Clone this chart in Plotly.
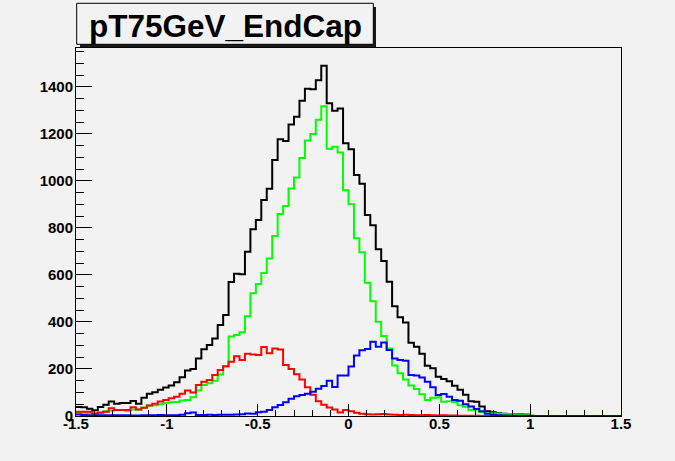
import numpy as np
import plotly.graph_objects as go

# Histogram binning: 100 bins over [-1.5, 1.5]
x_low, x_high, n_bins = -1.5, 1.5, 100

# Bin contents per component
total = [38, 37, 31, 24, 38, 48, 62, 52, 55, 55,
         64, 52, 78, 95, 101, 112, 121, 130, 143, 165,
         193, 200, 245, 284, 302, 330, 387, 430, 570, 605,
         603, 699, 794, 834, 919, 966, 1089, 1177, 1170, 1240,
         1273, 1341, 1392, 1390, 1428, 1490, 1330, 1298, 1308, 1160,
         1134, 1025, 988, 855, 811, 709, 659, 571, 467, 420,
         398, 312, 294, 265, 214, 203, 167, 157, 148, 129,
         112, 90, 63, 61, 40, 20, 16, 12, 10, 9,
         8, 7, 6, 1, 0, 0, 0, 0, 0, 0,
         0, 0, 0, 0, 0, 0, 0, 0, 0, 0]

green_h = [14, 14, 12, 10, 16, 20, 22, 25, 25, 22,
           28, 28, 35, 45, 46, 50, 54, 58, 60, 66,
           68, 80, 108, 132, 139, 150, 176, 210, 338, 345,
           356, 424, 522, 561, 608, 670, 766, 859, 893, 968,
           1014, 1097, 1172, 1199, 1260, 1317, 1137, 1145, 1121, 960,
           901, 756, 696, 567, 488, 401, 340, 287, 215, 182,
           155, 130, 115, 92, 68, 78, 80, 61, 63, 60,
           46, 39, 25, 28, 17, 12, 12, 10, 9, 8,
           7, 6, 6, 0, 0, 0, 0, 0, 0, 0,
           0, 0, 0, 0, 0, 0, 0, 0, 0, 0]

red_h = [18, 18, 18, 11, 14, 18, 33, 25, 25, 25,
         37, 28, 35, 45, 52, 62, 68, 75, 82, 95,
         108, 100, 132, 146, 153, 174, 196, 212, 231, 254,
         238, 265, 262, 259, 293, 267, 287, 283, 217, 200,
         178, 155, 122, 90, 63, 48, 36, 28, 15, 25,
         20, 14, 10, 7, 6, 7, 8, 6, 5, 4,
         5, 4, 3, 3, 4, 3, 2, 3, 2, 2,
         1, 1, 1, 1, 0, 0, 0, 0, 0, 0,
         0, 0, 0, 0, 0, 0, 0, 0, 0, 0,
         0, 0, 0, 0, 0, 0, 0, 0, 0, 0]

blue_h = [6, 4, 3, 3, 3, 3, 3, 3, 3, 3,
          2, 2, 3, 3, 3, 4, 3, 3, 3, 5,
          12, 15, 4, 4, 5, 4, 5, 5, 5, 6,
          7, 11, 10, 16, 18, 26, 37, 47, 58, 73,
          84, 89, 95, 103, 116, 128, 150, 123, 172, 172,
          210, 257, 280, 285, 316, 295, 313, 281, 245, 238,
          235, 174, 172, 164, 146, 122, 89, 94, 82, 68,
          65, 50, 40, 30, 20, 10, 5, 3, 2, 2,
          1, 1, 1, 0, 0, 0, 0, 0, 0, 0,
          0, 0, 0, 0, 0, 0, 0, 0, 0, 0]

x_tickvals = [-1.5, -1, -0.5, 0, 0.5, 1, 1.5]
x_ticktext = ["-1.5", "-1", "-0.5", "0", "0.5", "1", "1.5"]
y_tickvals = [0, 200, 400, 600, 800, 1000, 1200, 1400]
title_text = "pT75GeV_EndCap"

edges = np.linspace(x_low, x_high, n_bins + 1)


def step_trace(vals, color):
    ys = list(vals) + [vals[-1]]
    return go.Scatter(x=edges, y=ys, mode="lines",
                      line=dict(color=color, width=2, shape="hv"),
                      showlegend=False, hoverinfo="skip")


fig = go.Figure()
fig.add_trace(step_trace(total, "#000000"))
fig.add_trace(step_trace(green_h, "#00ff00"))
fig.add_trace(step_trace(red_h, "#ff0000"))
fig.add_trace(step_trace(blue_h, "#0000ff"))

W, H = 675, 461
L, R, T, B = 76, 54, 48, 45
pw, ph = W - L - R, H - T - B


def px(x):
    return (x - L) / pw


def py(y):
    return (H - B - y) / ph


bg = "#f2f2f2"
tick_font = dict(family="Liberation Sans, Arial, sans-serif", size=15,
                 color="black", weight="bold")

fig.update_layout(
    width=W, height=H,
    margin=dict(l=L, r=R, t=T, b=B, autoexpand=False),
    paper_bgcolor=bg, plot_bgcolor=bg,
    xaxis=dict(range=[x_low, x_high], tickvals=x_tickvals, ticktext=x_ticktext,
               ticks="inside", ticklen=12, tickwidth=1, tickcolor="black",
               minor=dict(dtick=0.1, tick0=-1.5, ticks="inside", ticklen=6,
                          tickcolor="black", tickwidth=1),
               showline=True, linecolor="black", linewidth=1, mirror=True,
               showgrid=False, zeroline=False, tickfont=tick_font,
               ticklabelstandoff=-6, automargin=False),
    yaxis=dict(range=[0, 1565], tickvals=y_tickvals,
               ticks="inside", ticklen=16, tickwidth=1, tickcolor="black",
               minor=dict(dtick=50, tick0=0, ticks="inside", ticklen=8,
                          tickcolor="black", tickwidth=1),
               showline=True, linecolor="black", linewidth=1, mirror=True,
               showgrid=False, zeroline=False, tickfont=tick_font,
               ticklabelstandoff=-1, automargin=False),
)

# Title pave with drop shadow
fig.add_shape(type="rect", xref="paper", yref="paper",
              x0=px(80), x1=px(376), y0=py(47.3), y1=py(7),
              fillcolor="#1a1a1a", line=dict(width=0), layer="above")
fig.add_shape(type="rect", xref="paper", yref="paper",
              x0=px(76.7), x1=px(373.3), y0=py(44.3), y1=py(3.3),
              fillcolor=bg, line=dict(color="black", width=1), layer="above")
fig.add_annotation(xref="paper", yref="paper", x=px(225), y=py(26),
                   text=title_text, showarrow=False,
                   xanchor="center", yanchor="middle",
                   font=dict(family="Liberation Sans, Arial, sans-serif",
                             size=31.5, color="black", weight="bold"))

fig.write_html("out.html")
